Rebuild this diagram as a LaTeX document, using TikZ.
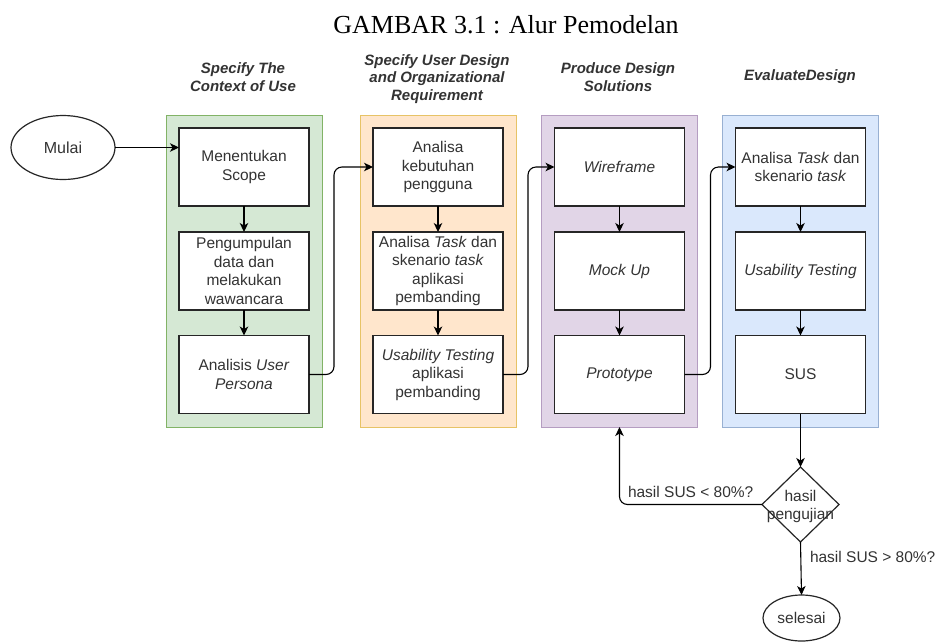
\documentclass[tikz,border=0pt]{standalone}
\usepackage{fontspec}
\setmainfont{Liberation Sans}
\newfontfamily\titlefont{Liberation Serif}
\usetikzlibrary{arrows.meta,shapes.geometric}
\definecolor{txt}{HTML}{333333}
\definecolor{gfill}{HTML}{D5E8D4}\definecolor{gline}{HTML}{82B366}
\definecolor{ofill}{HTML}{FFE6CC}\definecolor{oline}{HTML}{D79B00}
\definecolor{pfill}{HTML}{E1D5E7}\definecolor{pline}{HTML}{9673A6}
\definecolor{bfill}{HTML}{DAE8FC}\definecolor{bline}{HTML}{6C8EBF}
\begin{document}
\begin{tikzpicture}[x=1pt,y=-1pt,
  every node/.style={inner sep=0pt, outer sep=0pt},
  cont/.style={draw, line width=0.9pt, minimum width=156pt, minimum height=312pt},
  box/.style={draw=black!85, fill=white, line width=1.4pt, minimum width=130pt, minimum height=78pt, align=center, text=txt, font=\fontsize{15.5}{18.5}\selectfont},
  hdr/.style={align=center, text=txt, font=\fontsize{15}{17.5}\selectfont\bfseries\itshape},
  arr/.style={-{Stealth[length=9pt,width=8.5pt,inset=2.5pt]}, line width=1.1pt, rounded corners=8pt},
  lbl/.style={text=txt, font=\fontsize{15.5}{18.5}\selectfont},
  term/.style={ellipse, draw=black!85, line width=1.2pt, text=txt, font=\fontsize{16}{19}\selectfont}
]
\fill[white] (0,0) rectangle (937,641);
\useasboundingbox (0,0) rectangle (937,641);

\node[anchor=base, font=\titlefont\fontsize{26}{30}\selectfont] (title) at (506,33) {GAMBAR 3.1 : Alur Pemodelan};

\node[hdr] (h1) at (243,77) {Specify The\\Context of Use};
\node[hdr] (h2) at (437,79) {Specify User Design\\and Organizational\\Requirement};
\node[hdr] (h3) at (618,77) {Produce Design\\Solutions};
\node[hdr] (h4) at (800,77) {EvaluateDesign};

\node[cont, draw=gline, fill=gfill] (c1) at (244,271) {};
\node[cont, draw=oline!60, fill=ofill] (c2) at (438,271) {};
\node[cont, draw=pline!70, fill=pfill] (c3) at (619.5,271) {};
\node[cont, draw=bline!70, fill=bfill] (c4) at (800.5,271) {};

\node[term, minimum width=104pt, minimum height=64pt] (mulai) at (63,147.5) {Mulai};

\node[box] (b11) at (244,167) {Menentukan\\Scope};
\node[box] (b12) at (244,271) {Pengumpulan\\data dan\\melakukan\\wawancara};
\node[box] (b13) at (244,374.5) {Analisis \textit{User}\\\textit{Persona}};

\node[box] (b21) at (438,167) {Analisa\\kebutuhan\\pengguna};
\node[box] (b22) at (438,271) {Analisa \textit{Task} dan\\skenario \textit{task}\\aplikasi\\pembanding};
\node[box] (b23) at (438,374.5) {\textit{Usability Testing}\\aplikasi\\pembanding};

\node[box] (b31) at (619.5,167) {\textit{Wireframe}};
\node[box] (b32) at (619.5,271) {\textit{Mock Up}};
\node[box] (b33) at (619.5,374.5) {\textit{Prototype}};

\node[box] (b41) at (800.5,167) {Analisa \textit{Task} dan\\skenario \textit{task}};
\node[box] (b42) at (800.5,271) {\textit{Usability Testing}};
\node[box] (b43) at (800.5,374.5) {SUS};

\node[diamond, draw=black!85, line width=1.2pt, minimum width=77pt, minimum height=75pt] (dia) at (800.5,504.5) {};
\node[align=center, text=txt, font=\fontsize{15.5}{18}\selectfont] (dialbl) at (800.5,506) {hasil\\pengujian};

\node[term, minimum width=77pt, minimum height=46pt, font=\fontsize{15.5}{18}\selectfont] (selesai) at (801.5,618) {selesai};

% connectors
\draw[arr] (mulai.east) -- (mulai.east -| b11.west);
\draw[arr] (b11) -- (b12);
\draw[arr] (b12) -- (b13);
\draw[arr] (b21) -- (b22);
\draw[arr] (b22) -- (b23);
\draw[arr] (b31) -- (b32);
\draw[arr] (b32) -- (b33);
\draw[arr] (b41) -- (b42);
\draw[arr] (b42) -- (b43);
\draw[arr] (b13.east) -- ++(25,0) |- (b21.west);
\draw[arr] (b23.east) -- ++(25,0) |- (b31.west);
\draw[arr] (b33.east) -- ++(26,0) |- (b41.west);
\draw[arr] (b43.south) -- (dia.north);
\draw[arr] (dia.west) -| (c3.south);
\draw[arr] (dia.south) -- (selesai.north);

\node[lbl, anchor=base west] (l1) at (628,497.5) {hasil SUS < 80\%?};
\node[lbl, anchor=base west] (l2) at (810,562.5) {hasil SUS > 80\%?};
\end{tikzpicture}
\end{document}
